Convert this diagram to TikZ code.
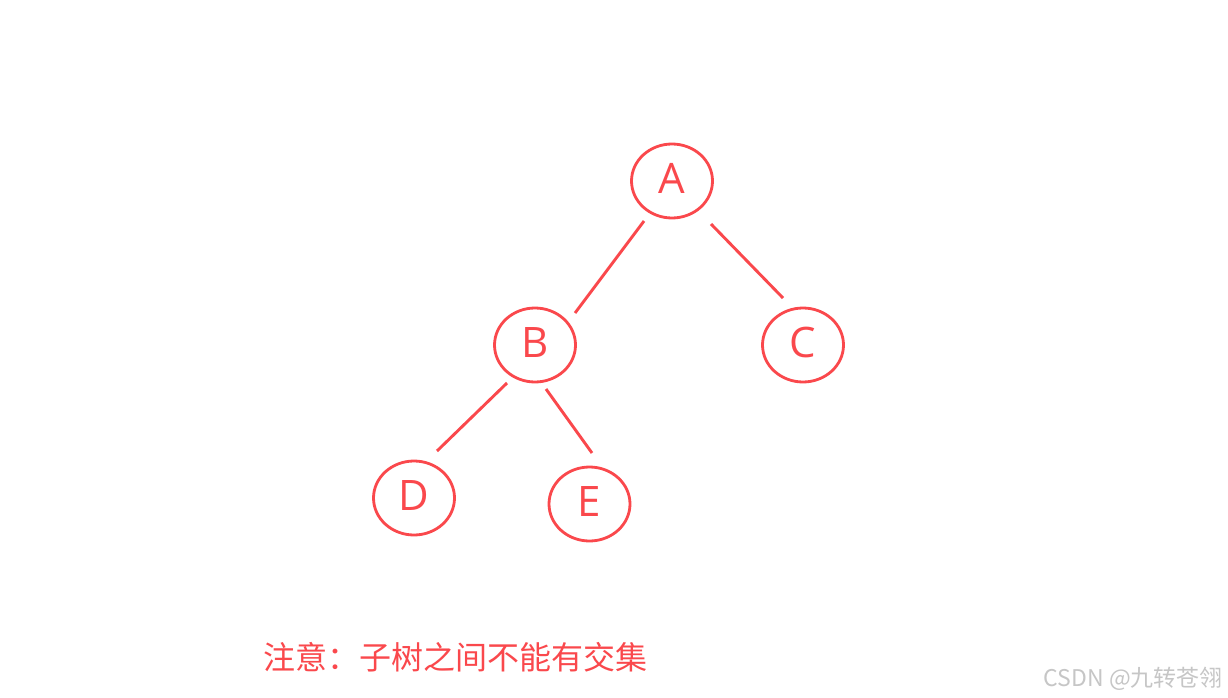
\documentclass[tikz,border=0pt]{standalone}
\usepackage{fontspec}
\setmainfont{Open Sans}
\newfontfamily\cjk{Noto Sans CJK SC}
\usetikzlibrary{shapes.geometric}
\definecolor{tred}{RGB}{250,72,76}
\definecolor{wm}{RGB}{198,198,198}
\begin{document}
\begin{tikzpicture}[x=1pt,y=-1pt,
  tnode/.style={ellipse,draw=tred,line width=2.8pt,minimum width=81pt,minimum height=74pt,inner sep=0pt,text=tred,font=\fontsize{42}{42}\selectfont},
  tedge/.style={draw=tred,line width=2.9pt}]
\useasboundingbox[fill=white] (0,0) rectangle (1228,698);
\node[tnode] (A) at (672,181) {\raisebox{5pt}{A}};
\node[tnode] (B) at (535,345) {\raisebox{5pt}{B}};
\node[tnode] (C) at (803,345) {\raisebox{5pt}{C}};
\node[tnode] (D) at (414,498) {\raisebox{5pt}{D}};
\node[tnode] (E) at (589.5,504) {\raisebox{5pt}{E}};
\draw[tedge] ([shift={(-28,40)}]A.center) -- ([shift={(40,-32)}]B.center);
\draw[tedge] ([shift={(39,43)}]A.center) -- ([shift={(-20,-47)}]C.center);
\draw[tedge] ([shift={(-28,38)}]B.center) -- ([shift={(23,-47)}]D.center);
\draw[tedge] ([shift={(11,44)}]B.center) -- ([shift={(2.5,-51)}]E.center);
\node[anchor=west,inner sep=0pt,text=tred,font=\cjk\fontsize{32}{32}\selectfont] (note) at (263,657) {注意：子树之间不能有交集};
\node[anchor=east,inner sep=0pt,text=wm,font=\cjk\fontsize{23}{23}\selectfont] (wmark) at (1223,679) {CSDN @九转苍翎};
\end{tikzpicture}
\end{document}
